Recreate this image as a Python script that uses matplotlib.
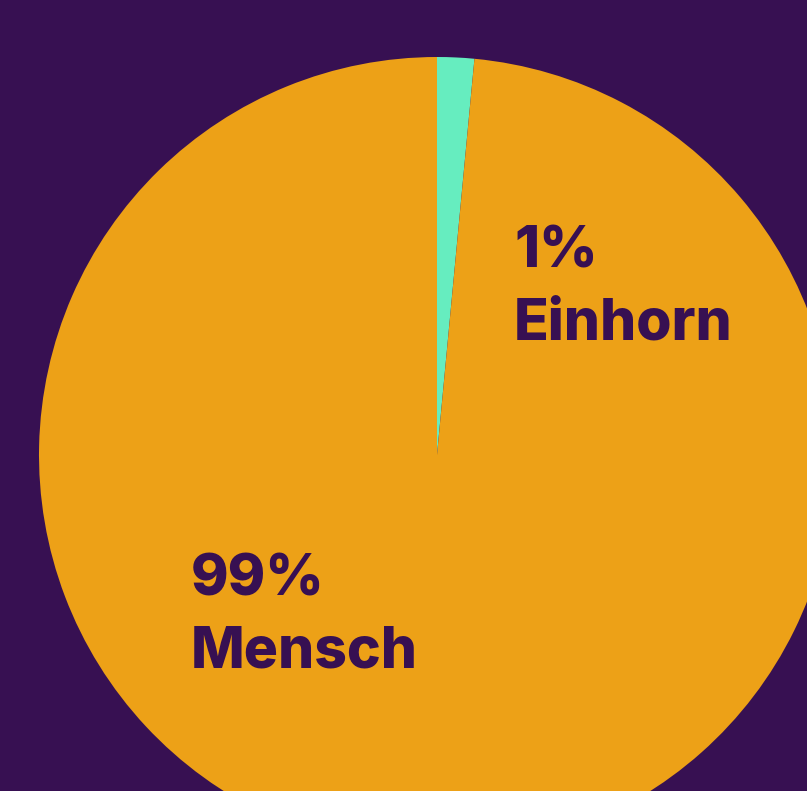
import matplotlib
matplotlib.use("Agg")
import matplotlib.pyplot as plt

# data
labels = ["Einhorn", "Mensch"]
pct_labels = ["1%", "99%"]
shares = [1.5, 98.5]
colors = ["#66EDBF", "#EDA117"]

BG = "#371052"

fig = plt.figure(figsize=(8.07, 7.91), dpi=100, facecolor=BG)
ax = fig.add_axes([0, 0, 1, 1])
ax.set_facecolor(BG)

# pie in pixel-like coords (y up)
ax.pie(shares, colors=colors, startangle=90, counterclock=False,
       center=(437, 791 - 455), radius=398,
       wedgeprops=dict(linewidth=0))

ax.set_xlim(0, 807)
ax.set_ylim(0, 791)
ax.set_aspect("auto")
ax.axis("off")

# label positions (left edge, baseline of first line)
label_pos = [(514, 791 - 267), (191, 791 - 595)]
line_gap = 72
for (x, y), pct, name in zip(label_pos, pct_labels, labels):
    for i, line in enumerate([pct, name]):
        ax.text(x, y - i * line_gap, line, ha="left", va="baseline",
                fontsize=41, fontweight=800, color=BG,
                family=["Inter", "DejaVu Sans"])

fig.savefig("out.png", dpi=100, facecolor=BG)
